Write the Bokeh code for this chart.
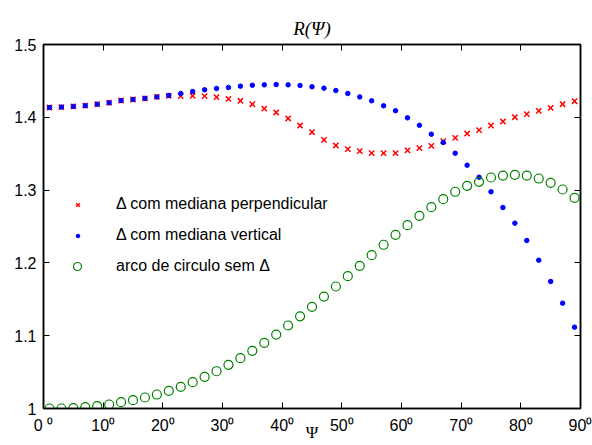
from bokeh.plotting import figure
from bokeh.models import FixedTicker, LinearAxis, Legend, LegendItem, Title, Range1d
from bokeh.embed import file_html
from bokeh.resources import INLINE

psi = [1, 3, 5, 7, 9, 11, 13, 15, 17, 19, 21, 23, 25, 27, 29, 31, 33, 35, 37, 39, 41, 43, 45,
       47, 49, 51, 53, 55, 57, 59, 61, 63, 65, 67, 69, 71, 73, 75, 77, 79, 81, 83, 85, 87, 89]

r_perpendicular = [1.4135, 1.414, 1.415, 1.416, 1.418, 1.420, 1.423, 1.4245, 1.426, 1.428, 1.4295,
                   1.429, 1.4295, 1.429, 1.4277, 1.4254, 1.4227, 1.418, 1.412, 1.4066, 1.3984,
                   1.3887, 1.3795, 1.369, 1.3613, 1.3562, 1.3535, 1.3507, 1.3507, 1.3507, 1.3545,
                   1.3576, 1.3608, 1.3672, 1.3718, 1.3777, 1.3823, 1.3887, 1.3942, 1.4001, 1.4043,
                   1.4089, 1.413, 1.418, 1.4221]

r_vertical = [1.4135, 1.414, 1.415, 1.416, 1.418, 1.420, 1.423, 1.4245, 1.426, 1.428, 1.430,
              1.4327, 1.4354, 1.4378, 1.4396, 1.441, 1.4428, 1.444, 1.4446, 1.445, 1.4446,
              1.4437, 1.4419, 1.440, 1.4368, 1.4327, 1.428, 1.4227, 1.4158, 1.409, 1.3993,
              1.389, 1.3768, 1.3654, 1.3507, 1.3342, 1.3177, 1.2977, 1.2761, 1.2546, 1.2308,
              1.2037, 1.1745, 1.1447, 1.1117]

r_arc = [1.0, 1.0, 1.0005, 1.0018, 1.0032, 1.0055, 1.0087, 1.0114, 1.0151, 1.0192, 1.0243,
         1.0298, 1.0361, 1.0435, 1.0512, 1.060, 1.0691, 1.0792, 1.0902, 1.1016, 1.114,
         1.1266, 1.1397, 1.1538, 1.1676, 1.1817, 1.196, 1.2106, 1.2249, 1.2386, 1.2518,
         1.2647, 1.2766, 1.2876, 1.2977, 1.3059, 1.3114, 1.3173, 1.320, 1.321, 1.320,
         1.3159, 1.310, 1.3008, 1.2894]

x_ticks = [0, 10, 20, 30, 40, 50, 60, 70, 80, 90]
x_tick_labels = ["0 ⁰", "10⁰", "20⁰", "30⁰", "40⁰", "50⁰", "60⁰", "70⁰", "80⁰", "90⁰"]
y_ticks = [1.0, 1.1, 1.2, 1.3, 1.4, 1.5]
y_tick_labels = ["1", "1.1", "1.2", "1.3", "1.4", "1.5"]

labels = ["Δ com mediana perpendicular", "Δ com mediana vertical", "arco de circulo sem Δ"]

FONT = "Liberation Sans"

p = figure(width=592, height=445, output_backend="svg", toolbar_location=None,
           x_range=Range1d(0, 90), y_range=Range1d(1, 1.5),
           min_border_left=43, min_border_right=12, min_border_top=44, min_border_bottom=37,
           x_axis_location=None, y_axis_location=None)
p.grid.visible = False
p.outline_line_color = "black"
p.outline_line_width = 1.5
p.background_fill_color = "white"
p.border_fill_color = "white"


def style_axis(ax, ticks, tick_labels, show_labels):
    ax.ticker = FixedTicker(ticks=ticks)
    ax.axis_line_color = "black"
    ax.axis_line_width = 1.5
    ax.major_tick_in = 6
    ax.major_tick_out = 0
    ax.major_tick_line_color = "black"
    ax.minor_tick_line_color = None
    if show_labels:
        ax.major_label_overrides = {t: l for t, l in zip(ticks, tick_labels)}
        ax.major_label_text_font = FONT
        ax.major_label_text_font_size = "16px"
        ax.major_label_text_color = "black"
    else:
        ax.major_label_text_font_size = "0px"
        ax.major_label_text_color = None
        ax.major_label_standoff = 0


xb = LinearAxis()
style_axis(xb, x_ticks, x_tick_labels, True)
xb.major_label_standoff = 8
xb.axis_label = "Ψ"
xb.axis_label_text_font = "Liberation Serif"
xb.axis_label_text_font_style = "normal"
xb.axis_label_text_font_size = "17px"
xb.axis_label_text_color = "black"
xb.axis_label_standoff = -14
p.add_layout(xb, "below")

yl = LinearAxis()
style_axis(yl, y_ticks, y_tick_labels, True)
yl.major_label_standoff = 7
p.add_layout(yl, "left")

xt = LinearAxis()
style_axis(xt, x_ticks, x_tick_labels, False)
p.add_layout(xt, "above")

yr = LinearAxis()
style_axis(yr, y_ticks, y_tick_labels, False)
p.add_layout(yr, "right")

r1 = p.scatter(psi, r_perpendicular, marker="x", size=7.5, line_color="#ff0000", line_width=1.5)
r2 = p.scatter(psi, r_vertical, marker="circle", size=4.5, fill_color="#0000ff", line_color="#0000ff")
r3 = p.scatter(psi, r_arc, marker="circle", size=9, fill_color=None, line_color="#008000", line_width=1.2)


def make_legend(label, renderer, box, loc, standoff):
    return Legend(items=[LegendItem(label=label, renderers=[renderer])],
                  location=loc, border_line_color=None, background_fill_alpha=0,
                  padding=0, margin=0, spacing=0, glyph_width=box, glyph_height=box,
                  label_height=20, label_standoff=standoff, label_text_font=FONT,
                  label_text_font_size="16px", label_text_color="black")


# one legend per entry so each symbol keeps its own (small) legend size
p.add_layout(make_legend(labels[0], r1, 13, (28, 194), 32))
p.add_layout(make_legend(labels[1], r2, 9, (30, 163), 34))
p.add_layout(make_legend(labels[2], r3, 20, (24, 132), 29))

title = Title(text="R(Ψ)", align="center", text_font="Liberation Serif", text_font_style="italic",
              text_font_size="19px", text_color="black", standoff=12)
p.add_layout(title, "above")

open("out.html", "w").write(file_html(p, INLINE))
